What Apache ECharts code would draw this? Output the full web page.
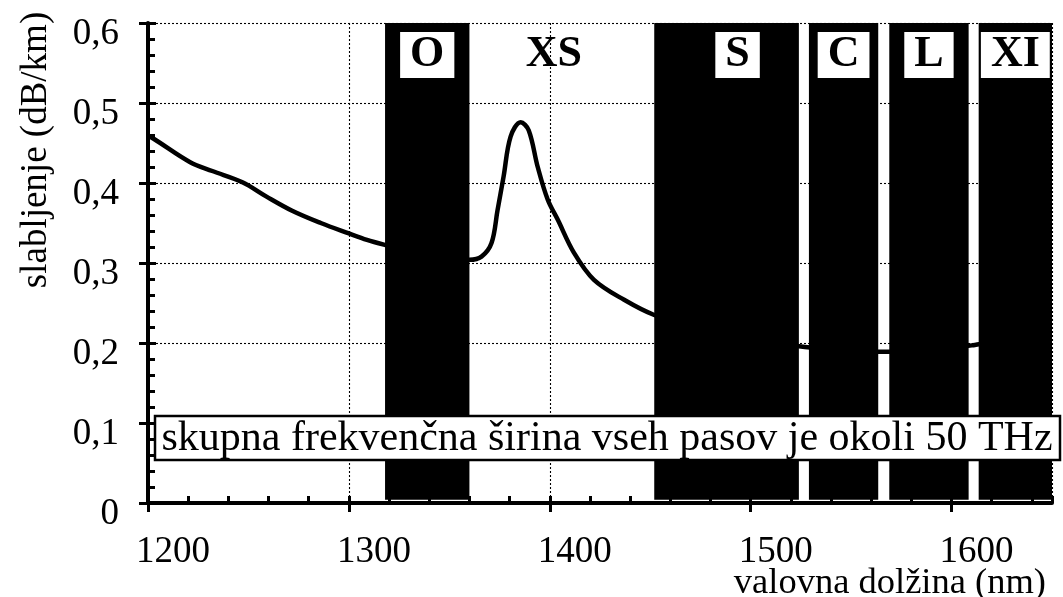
<!DOCTYPE html>
<html>
<head>
<meta charset="utf-8">
<script src="https://cdn.jsdelivr.net/npm/echarts@6/dist/echarts.min.js"></script>
<style>html,body{margin:0;padding:0;background:#fff;}#c{width:1063px;height:597px;}</style>
</head>
<body>
<div id="c"></div>
<script>
// ---- data ----
const wavelengths = [1200, 1203, 1221, 1232, 1247, 1259, 1272, 1286, 1300, 1309, 1319, 1330, 1345, 1360, 1366, 1371, 1374, 1377, 1380.5, 1385.5, 1389.5, 1394, 1399, 1404, 1412, 1422, 1437, 1452, 1470, 1490, 1510, 1527, 1545, 1566, 1590, 1610, 1630, 1650];
const attenuation = [0.459, 0.455, 0.426, 0.415, 0.401, 0.383, 0.365, 0.350, 0.337, 0.329, 0.322, 0.315, 0.308, 0.304, 0.308, 0.325, 0.366, 0.408, 0.458, 0.476, 0.466, 0.420, 0.379, 0.354, 0.313, 0.279, 0.254, 0.235, 0.222, 0.210, 0.201, 0.195, 0.191, 0.189, 0.191, 0.197, 0.208, 0.231];
const bandNames = ['O', 'XS', 'S', 'C', 'L', 'XI'];
const bandStart = [1318, 1360, 1452, 1529, 1569, 1613.5];
const bandEnd   = [1360, 1452, 1524, 1563.5, 1608.5, 1651];
const bandFilled = [true, false, true, true, true, true];
const xTickLabels = ['1200', '1300', '1400', '1500', '1600'];
const yTickLabels = ['0', '0,1', '0,2', '0,3', '0,4', '0,5', '0,6'];
const yTitle = 'slabljenje (dB/km)';
const xTitle = 'valovna dolžina (nm)';
const noteText = 'skupna frekvenčna širina vseh pasov je okoli 50 THz';

const FONT = '"Liberation Serif", "DejaVu Serif", serif';
const labelOffsets = [[0,0],[-8,0],[11,0],[0,0],[0,0],[0,0]];

const chart = echarts.init(document.getElementById('c'), null, {renderer: 'canvas'});

const areas = bandNames.map((name, i) => [
  {
    xAxis: bandStart[i], yAxis: 0.004,
    itemStyle: {color: bandFilled[i] ? '#000' : 'rgba(0,0,0,0)', opacity: 1},
    label: {
      show: true, formatter: name, position: 'insideTop', distance: 9,
      offset: labelOffsets[i],
      color: '#000', fontFamily: FONT, fontWeight: 'bold', fontSize: 44, lineHeight: 40,
      backgroundColor: bandFilled[i] ? '#fff' : 'transparent',
      padding: [3, 10, 3, 10]
    }
  },
  {xAxis: bandEnd[i], yAxis: 0.6}
]);

const xMin = 1200, xMax = 1650;
const commonX = {type: 'value', min: xMin, max: xMax, interval: 100, gridIndex: 0};
const commonY = {type: 'value', min: 0, max: 0.6, interval: 0.1, gridIndex: 0};

const option = {
  animation: false,
  backgroundColor: '#fff',
  grid: {left: 148, right: 11, top: 23, bottom: 94, containLabel: false},
  xAxis: [
    Object.assign({}, commonX, {
      position: 'bottom',
      axisLine: {show: true, lineStyle: {color: '#000', width: 4}},
      axisTick: {show: true, inside: false, length: 9, lineStyle: {color: '#000', width: 3}},
      minorTick: {show: false},
      splitLine: {show: true, lineStyle: {color: '#000', width: 1.1, type: [2, 2]}},
      axisLabel: {
        show: true, margin: 31, color: '#000', fontFamily: FONT, fontSize: 37,
        padding: [0, 0, 0, 50], showMaxLabel: false,
        formatter: v => { const i = xTickLabels.indexOf(String(v)); return i >= 0 ? xTickLabels[i] : ''; }
      }
    }),
    Object.assign({}, commonX, {
      position: 'bottom',
      axisLine: {show: false},
      axisTick: {show: true, inside: true, length: 7, lineStyle: {color: '#000', width: 3}},
      minorTick: {show: true, splitNumber: 5, length: 7, lineStyle: {color: '#000', width: 3}},
      splitLine: {show: false},
      axisLabel: {show: false}
    })
  ],
  yAxis: [
    Object.assign({}, commonY, {
      position: 'left',
      axisLine: {show: true, lineStyle: {color: '#000', width: 4}},
      axisTick: {show: true, inside: false, length: 9, lineStyle: {color: '#000', width: 3}},
      minorTick: {show: false},
      splitLine: {show: true, lineStyle: {color: '#000', width: 1.1, type: [2, 2]}},
      axisLabel: {
        show: true, margin: 29, color: '#000', fontFamily: FONT, fontSize: 37,
        verticalAlign: 'top', lineHeight: 22,
        formatter: v => yTickLabels[Math.round(v * 10)] || ''
      }
    }),
    Object.assign({}, commonY, {
      position: 'left',
      axisLine: {show: false},
      axisTick: {show: true, inside: true, length: 8, lineStyle: {color: '#000', width: 3}},
      minorTick: {show: true, splitNumber: 5, length: 7, lineStyle: {color: '#000', width: 3}},
      splitLine: {show: false},
      axisLabel: {show: false}
    })
  ],
  series: [{
    type: 'line',
    xAxisIndex: 0, yAxisIndex: 0,
    data: wavelengths.map((w, i) => [w, attenuation[i]]),
    smooth: 0.35,
    symbol: 'none',
    lineStyle: {color: '#000', width: 4.5},
    z: 1,
    markArea: {silent: true, data: areas}
  }],
  graphic: [
    {
      type: 'text', x: 36, y: 150, rotation: Math.PI / 2,
      style: {text: yTitle, font: '37px ' + FONT, fill: '#000', align: 'center', verticalAlign: 'middle'}
    },
    {
      type: 'text', x: 1046, y: 583,
      style: {text: xTitle, font: '36.5px ' + FONT, fill: '#000', align: 'right', verticalAlign: 'middle'}
    },
    {
      type: 'rect', z: 100,
      shape: {x: 155, y: 416, width: 905, height: 44},
      style: {fill: '#fff', stroke: '#000', lineWidth: 2.5}
    },
    {
      type: 'text', z: 101, x: 607, y: 439,
      style: {text: noteText, font: '42px ' + FONT, fill: '#000', align: 'center', verticalAlign: 'middle'}
    }
  ]
};
chart.setOption(option);
</script>
</body>
</html>
